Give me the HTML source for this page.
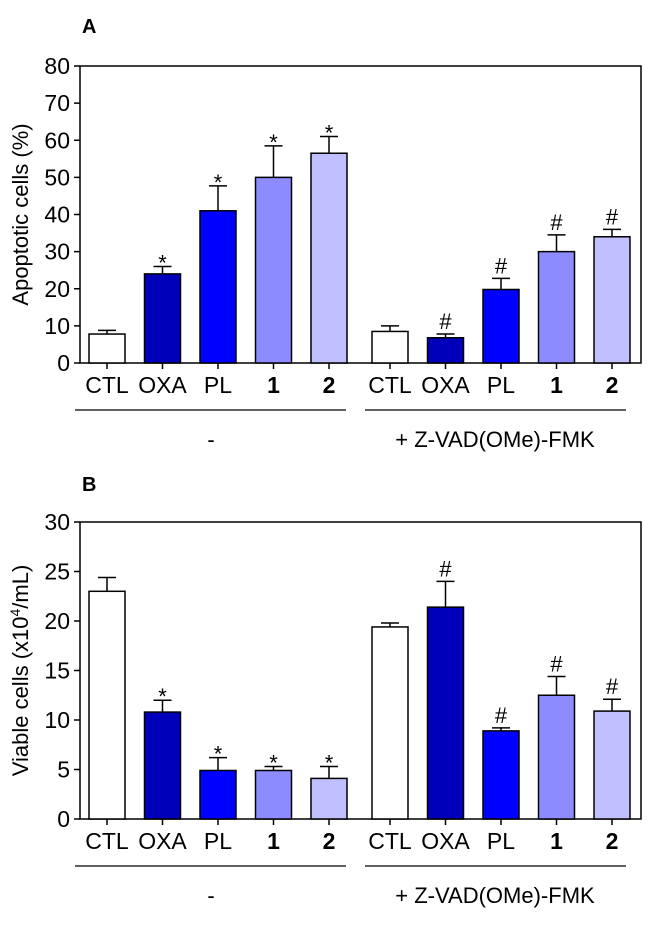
<!DOCTYPE html>
<html><head><meta charset="utf-8"><style>
body{margin:0;background:#fff}
svg text{font-family:"Liberation Sans",Arial,sans-serif;fill:#000}
</style></head><body>
<svg id="fig" width="650" height="923" xmlns="http://www.w3.org/2000/svg"></svg>
<script>
const categories = ["CTL","OXA","PL","1","2","CTL","OXA","PL","1","2"];
const boldCats = [false,false,false,true,true,false,false,false,true,true];
const colors = ["#ffffff","#0000bb","#0000ff","#8c8cff","#c0c0ff"];
const valuesA = [7.8,24,41,50,56.5,8.5,6.8,19.8,30,34];
const errorsA = [1,2,6.7,8.5,4.5,1.5,1,3,4.5,2];
const marksA = ["","*","*","*","*","","#","#","#","#"];
const ticksA = [0,10,20,30,40,50,60,70,80];
const valuesB = [23,10.8,4.9,4.9,4.1,19.4,21.4,8.9,12.5,10.9];
const errorsB = [1.4,1.2,1.3,0.4,1.2,0.4,2.6,0.3,1.9,1.2];
const marksB = ["","*","*","*","*","","#","#","#","#"];
const ticksB = [0,5,10,15,20,25,30];

const NS="http://www.w3.org/2000/svg";
const svg=document.getElementById('fig');
function mk(tag,attrs,txt){const e=document.createElementNS(NS,tag);for(const k in attrs)e.setAttribute(k,attrs[k]);if(txt!==undefined)e.textContent=txt;svg.appendChild(e);return e;}
const xCenter=i=> i<5 ? 107+55.5*i : 390+55.5*(i-5);
const barW=36;

function panel(p){
  const y=v=>p.y0-(v/p.max)*(p.y0-p.yTop);
  let e=mk('text',{x:82,y:p.labelY,'font-size':20,'font-weight':'bold'},p.label);
  
  
  e=mk('rect',{x:80,y:p.yTop,width:561,height:p.y0-p.yTop,fill:'none',stroke:'#000','stroke-width':1.5});
  
  
  p.ticks.forEach(t=>{
    const ty=y(t);
    let l=mk('line',{x1:74,x2:80,y1:ty,y2:ty,stroke:'#000','stroke-width':1.5});
    
    
    let tx=mk('text',{x:70,y:ty+8,'font-size':23,'text-anchor':'end'},t);
    
    
  });
  const mid=(p.y0+p.yTop)/2;
  e=mk('text',{x:0,y:0,'font-size':22,'text-anchor':'middle',transform:`translate(${p.titleX},${mid}) rotate(-90)`});
  e.innerHTML=p.title;
  
  
  categories.forEach((c,i)=>{
    const cx=xCenter(i), v=p.vals[i], er=p.errs[i];
    let l=mk('line',{x1:cx,x2:cx,y1:y(v),y2:y(v+er),stroke:'#000','stroke-width':1.5});
    
    
    l=mk('line',{x1:cx-9,x2:cx+9,y1:y(v+er),y2:y(v+er),stroke:'#000','stroke-width':1.5});
    
    
    let r=mk('rect',{x:cx-barW/2,y:y(v),width:barW,height:p.y0-y(v),fill:colors[i%5],stroke:'#000','stroke-width':1.5});
    
    
    if(p.marks[i]){
      const star=p.marks[i]=='*';
      let m=mk('text',{x:cx,y:y(v+er)-5+(star?9:0),'font-size':star?22:22,'text-anchor':'middle'},p.marks[i]);
      
      
    }
    l=mk('line',{x1:cx,x2:cx,y1:p.y0,y2:p.y0+6,stroke:'#000','stroke-width':1.5});
    
    
    let t=mk('text',{x:cx,y:p.y0+30,'font-size':23,'text-anchor':'middle','font-weight':boldCats[i]?'bold':'normal'},c);
    
    
  });
  let g=mk('line',{x1:75,x2:346,y1:p.y0+47,y2:p.y0+47,stroke:'#000','stroke-width':1.2});
  
  
  g=mk('line',{x1:365,x2:626,y1:p.y0+47,y2:p.y0+47,stroke:'#000','stroke-width':1.2});
  
  
  g=mk('text',{x:211,y:p.y0+84,'font-size':22,'text-anchor':'middle'},'-');
  
  
  g=mk('text',{x:495,y:p.y0+84,'font-size':22,'text-anchor':'middle'},'+ Z-VAD(OMe)-FMK');
  
  
}
panel({label:'A',labelY:33,yTop:66,y0:363,max:80,ticks:ticksA,vals:valuesA,errs:errorsA,marks:marksA,title:'Apoptotic cells (%)',titleX:28});
panel({label:'B',labelY:491,yTop:522,y0:819,max:30,ticks:ticksB,vals:valuesB,errs:errorsB,marks:marksB,title:'Viable cells (x10<tspan dy="-8" font-size="14">4</tspan><tspan dy="8">/mL)</tspan>',titleX:28});
</script>
</body></html>
